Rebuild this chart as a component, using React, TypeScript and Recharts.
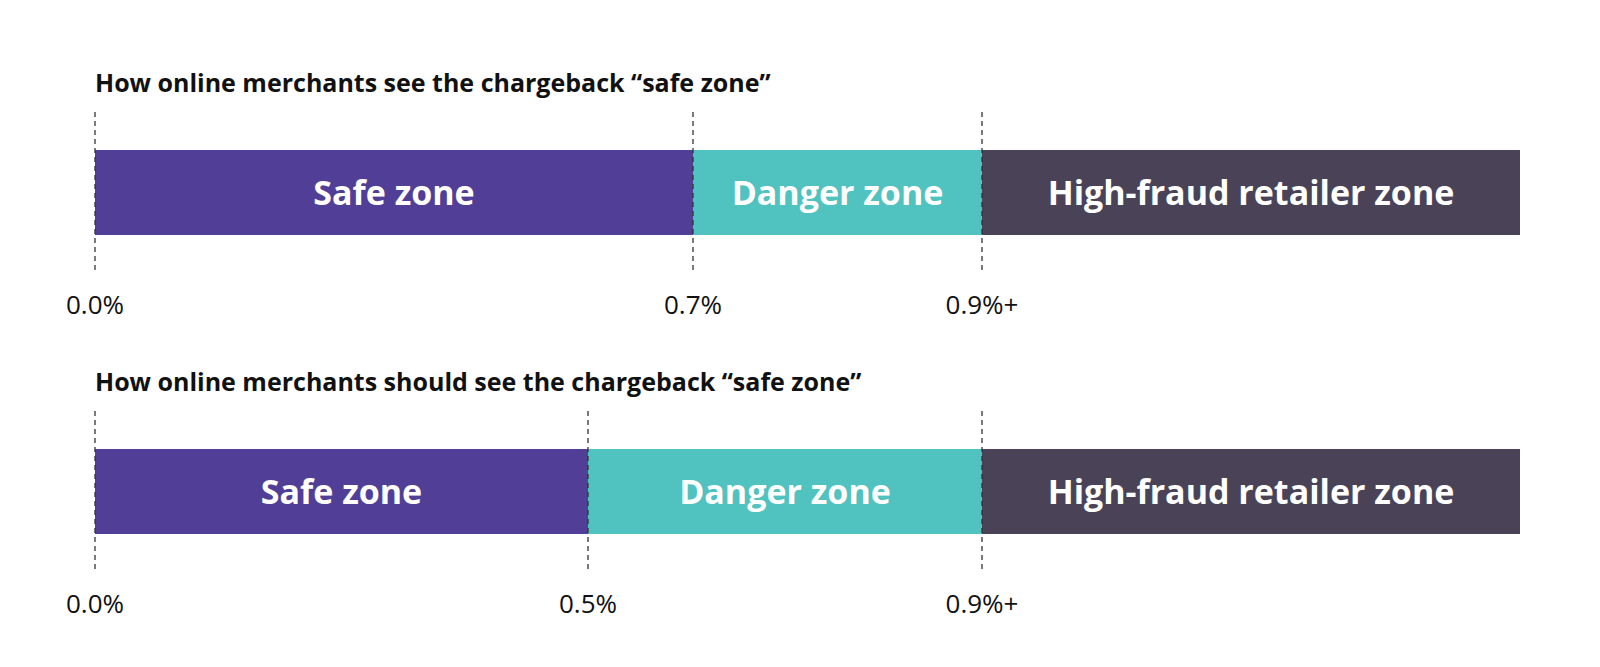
import React from "react"
import { BarChart, Bar, XAxis, YAxis, LabelList } from "recharts"

// zone strips: segment lengths (shared scale, the strips are not drawn to % scale)
const zoneNames = ["Safe zone", "Danger zone", "High-fraud retailer zone"]
const zoneColors = ["#513f97", "#50c2bf", "#4a4358"]

const seeTitle = "How online merchants see the chargeback “safe zone”"
const seeWidths = [598, 289, 538]
const seeTicks = ["0.0%", "0.7%", "0.9%+"]

const shouldTitle = "How online merchants should see the chargeback “safe zone”"
const shouldWidths = [493, 394, 538]
const shouldTicks = ["0.0%", "0.5%", "0.9%+"]

const FONT = "'Open Sans', Lato, sans-serif"
const keys = ["safe", "danger", "high"]

function BoundaryTick(props: any) {
  const { x, y, payload, labels, bounds } = props
  const label = labels[bounds.indexOf(payload.value)]
  return (
    <g>
      <line x1={x} x2={x} y1={y - 123} y2={y + 38} stroke="#333" strokeWidth={1.3} strokeDasharray="5 4" />
      <text x={x} y={y + 79} textAnchor="middle" fill="#111" fontSize={26} fontFamily={FONT} fontWeight={500}>
        {label}
      </text>
    </g>
  )
}

function ZoneStrip({ title, widths, ticks, top }: { title: string; widths: number[]; ticks: string[]; top: number }) {
  const row: any = { name: title }
  keys.forEach((k, i) => (row[k] = widths[i]))
  const bounds = [0, widths[0], widths[0] + widths[1]]
  const total = widths.reduce((a, b) => a + b, 0)

  return (
    <div style={{ position: "absolute", left: 0, top, width: 1600, height: 330 }}>
      <svg width={1600} height={110} style={{ position: "absolute", left: 0, top: 0 }}>
        <text x={95} y={92} fill="#111" fontSize={25} fontWeight={700} fontFamily={FONT}>
          {title}
        </text>
      </svg>
      <div style={{ position: "absolute", left: 0, top: 0 }}>
        <BarChart
          width={1600}
          height={330}
          data={[row]}
          layout="vertical"
          barCategoryGap={0}
          margin={{ top: 150, right: 80, bottom: 0, left: 95 }}
        >
          <XAxis
            type="number"
            domain={[0, total]}
            ticks={bounds}
            axisLine={false}
            tickLine={false}
            tickSize={0}
            tickMargin={0}
            height={95}
            interval={0}
            tick={<BoundaryTick labels={ticks} bounds={bounds} />}
          />
          <YAxis type="category" dataKey="name" hide />
          {keys.map((k, i) => (
            <Bar key={k} dataKey={k} stackId="z" fill={zoneColors[i]} isAnimationActive={false}>
              <LabelList
                dataKey={k}
                position="center"
                formatter={() => zoneNames[i]}
                fill="#fff"
                style={{ fontFamily: FONT, fontWeight: 700, fontSize: 34 }}
              />
            </Bar>
          ))}
        </BarChart>
      </div>
    </div>
  )
}

export default function App() {
  return (
    <div style={{ position: "absolute", left: 0, top: 0, width: 1600, height: 667, background: "#fff" }}>
      <ZoneStrip title={seeTitle} widths={seeWidths} ticks={seeTicks} top={0} />
      <ZoneStrip title={shouldTitle} widths={shouldWidths} ticks={shouldTicks} top={299} />
    </div>
  )
}
